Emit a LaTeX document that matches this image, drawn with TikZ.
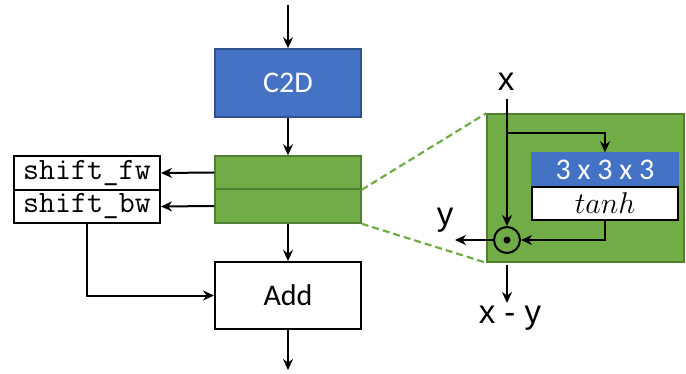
\documentclass[tikz,border=0pt]{standalone}
\usepackage{fix-cm}
\usepackage{fontspec}
\setmainfont{Carlito}
\newfontfamily\lblfont{Liberation Sans}
\usetikzlibrary{arrows.meta,calc}
\definecolor{cblue}{HTML}{4472C4}
\definecolor{cblueb}{HTML}{2F528F}
\definecolor{cgreen}{HTML}{70AD47}
\definecolor{cgreenb}{HTML}{507E32}
\begin{document}
\begin{tikzpicture}[x=1pt,y=-1pt,
  arr/.style={line width=2pt,-{Stealth[length=11pt,width=10pt]}},
  bluebox/.style={draw=cblueb,fill=cblue,line width=1.5pt,inner sep=0pt,text=white,font=\fontsize{30}{34}\selectfont},
  greenbox/.style={draw=cgreenb,fill=cgreen,line width=1.5pt,inner sep=0pt},
  whitebox/.style={draw=black,fill=white,line width=2pt,inner sep=0pt,font=\fontsize{30}{34}\selectfont},
  ttbox/.style={draw=black,fill=white,line width=2pt,inner sep=0pt,minimum width=146pt,font=\fontsize{31}{34}\selectfont\ttfamily},
  lbl/.style={inner sep=0pt,font=\fontsize{33}{38}\selectfont\lblfont},
  dashg/.style={draw=cgreen,line width=2.2pt,dash pattern=on 7pt off 4pt}
]
\useasboundingbox (0,0) rectangle (686,373);
% main column
\coordinate (top) at (288,5);
\node[bluebox,minimum width=146pt,minimum height=68pt] (c2d) at (288,83) {C2D};
\node[greenbox,minimum width=146pt,minimum height=33pt] (gtop) at (288,172.5) {};
\node[greenbox,minimum width=146pt,minimum height=34pt] (gbot) at (288,206) {};
\node[whitebox,minimum width=146pt,minimum height=67pt] (add) at (288,295.5) {Add};
\coordinate (bottom) at (288,370);
\draw[arr] (top) -- (c2d.north);
\draw[arr] (c2d.south) -- (gtop.north);
\draw[arr] (gbot.south) -- (add.north);
\draw[arr] (add.south) -- (bottom);
% shift boxes
\node[ttbox,minimum height=34pt] (sfw) at (87,173) {shift\_fw};
\node[ttbox,minimum height=33pt] (sbw) at (87,206.5) {shift\_bw};
\draw[arr] (gtop.west) -- (sfw.east);
\draw[arr] (gbot.west) -- (sbw.east);
\draw[arr] (sbw.south) |- (add.west);
% zoom panel
\node[greenbox,minimum width=197pt,minimum height=148pt] (zoom) at (585.5,188) {};
\draw[dashg] (gtop.south east) -- (zoom.north west);
\draw[dashg] (gbot.south east) -- (zoom.south west);
\node[lbl] (xl) at (506,82) {x};
\coordinate (xs) at (507,99);
\node[circle,draw=black,line width=2pt,minimum size=26pt,inner sep=0pt] (odot) at (507,240) {};
\fill (odot.center) circle (3.5pt);
\coordinate (br) at (507,133);
\node[bluebox,minimum width=146pt,minimum height=34pt,draw=cblue] (conv) at (605,170) {3 x 3 x 3};
\node[whitebox,minimum width=146pt,minimum height=33pt,font=\fontsize{30}{34}\selectfont] (tanh) at (605,203.5) {$tanh$};
\draw[arr] (xs) -- (odot.north);
\draw[arr] (br) -| (conv.north);
\draw[arr] (tanh.south) |- (odot.east);
\coordinate (yend) at (455,240);
\draw[arr] (odot.west) -- (yend);
\node[lbl] (yl) at (445,220) {y};
\coordinate (ds) at (507,265);
\coordinate (de) at (507,303);
\draw[arr] (ds) -- (de);
\node[lbl] (xy) at (510,318) {x - y};
\end{tikzpicture}
\end{document}
